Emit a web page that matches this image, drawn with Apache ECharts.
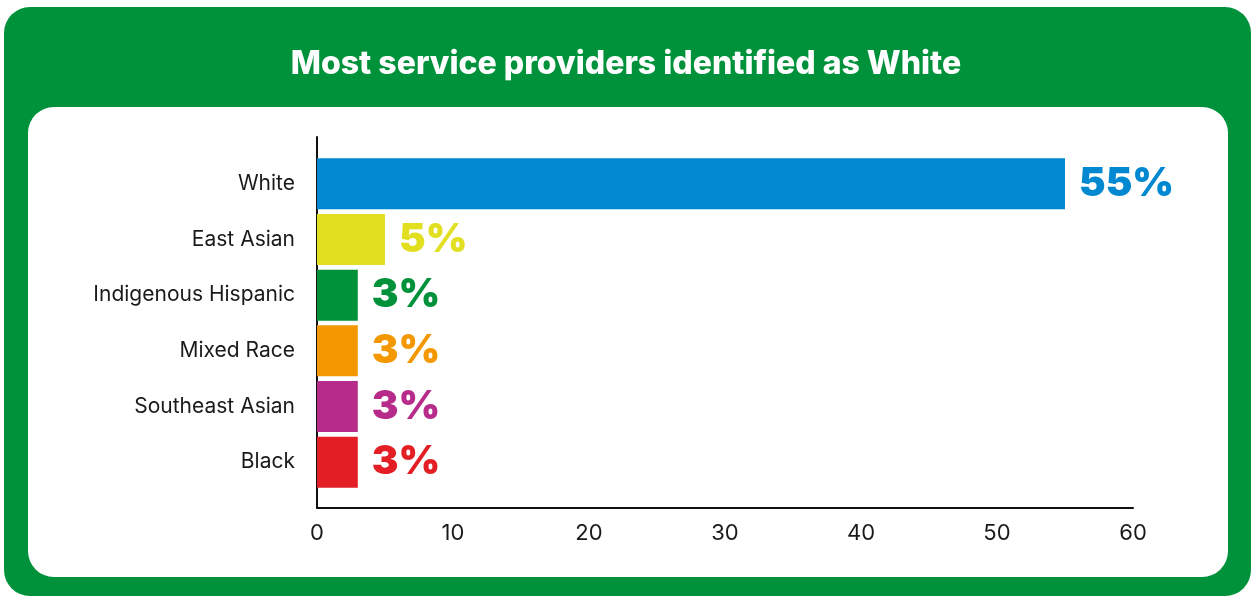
<!DOCTYPE html>
<html>
<head>
<meta charset="utf-8">
<script src="https://cdn.jsdelivr.net/npm/echarts@6/dist/echarts.min.js"></script>
<style>
  html, body { margin: 0; padding: 0; background: #fff; }
  #chart { width: 1252px; height: 596px; }
</style>
</head>
<body>
<div id="chart"></div>
<script>
  const titleText = 'Most service providers identified as White'
  const categories = ['White', 'East Asian', 'Indigenous Hispanic', 'Mixed Race', 'Southeast Asian', 'Black']
  const values = [55, 5, 3, 3, 3, 3]
  const barColors = ['#0088d1', '#e2df20', '#00923a', '#f39800', '#b72c8a', '#e31e24']
  const xTicks = { min: 0, max: 60, interval: 10 }

  const green = '#00923a'
  const font = 'Inter, "Noto Sans", sans-serif'

  const chart = echarts.init(document.getElementById('chart'))

  chart.setOption({
    backgroundColor: '#fff',
    animation: false,
    title: {
      text: titleText,
      left: 'center',
      top: 43,
      textStyle: { color: '#fff', fontSize: 32, fontWeight: 800, fontFamily: font }
    },
    graphic: [
      {
        type: 'rect', z: -10, silent: true,
        shape: { x: 4, y: 7, width: 1247, height: 589, r: 26 },
        style: { fill: green }
      },
      {
        type: 'rect', z: -9, silent: true,
        shape: { x: 28, y: 107, width: 1200, height: 470, r: 26 },
        style: { fill: '#fff' }
      }
    ],
    grid: [
      { left: 317, right: 119, top: 137, bottom: 88 },
      { left: 317, right: 119, top: 156, bottom: 106 }
    ],
    xAxis: [{
      gridIndex: 0,
      type: 'value',
      min: xTicks.min,
      max: xTicks.max,
      interval: xTicks.interval,
      axisLine: { show: true, lineStyle: { color: '#111', width: 2 } },
      axisTick: { show: false },
      splitLine: { show: false },
      axisLabel: { color: '#1a1a1a', fontSize: 22, margin: 14, fontFamily: font }
    }, {
      gridIndex: 1,
      type: 'value',
      min: xTicks.min,
      max: xTicks.max,
      show: false
    }],
    yAxis: [{
      gridIndex: 0,
      type: 'value',
      min: 0,
      max: 1,
      axisLine: { show: true, lineStyle: { color: '#111', width: 2 } },
      axisTick: { show: false },
      axisLabel: { show: false },
      splitLine: { show: false }
    }, {
      gridIndex: 1,
      type: 'category',
      inverse: true,
      data: categories,
      axisLine: { show: false },
      axisTick: { show: false },
      axisLabel: { color: '#1a1a1a', fontSize: 21, margin: 22, fontFamily: font }
    }],
    series: [{
      type: 'bar',
      xAxisIndex: 1,
      yAxisIndex: 1,
      barWidth: 51,
      data: values.map((v, i) => ({
        value: v,
        itemStyle: { color: barColors[i] },
        label: { color: barColors[i] }
      })),
      label: {
        show: true,
        position: 'right',
        distance: 14,
        formatter: '{c}%',
        fontSize: 40,
        fontWeight: 900,
        fontFamily: font
      }
    }]
  })
</script>
</body>
</html>
